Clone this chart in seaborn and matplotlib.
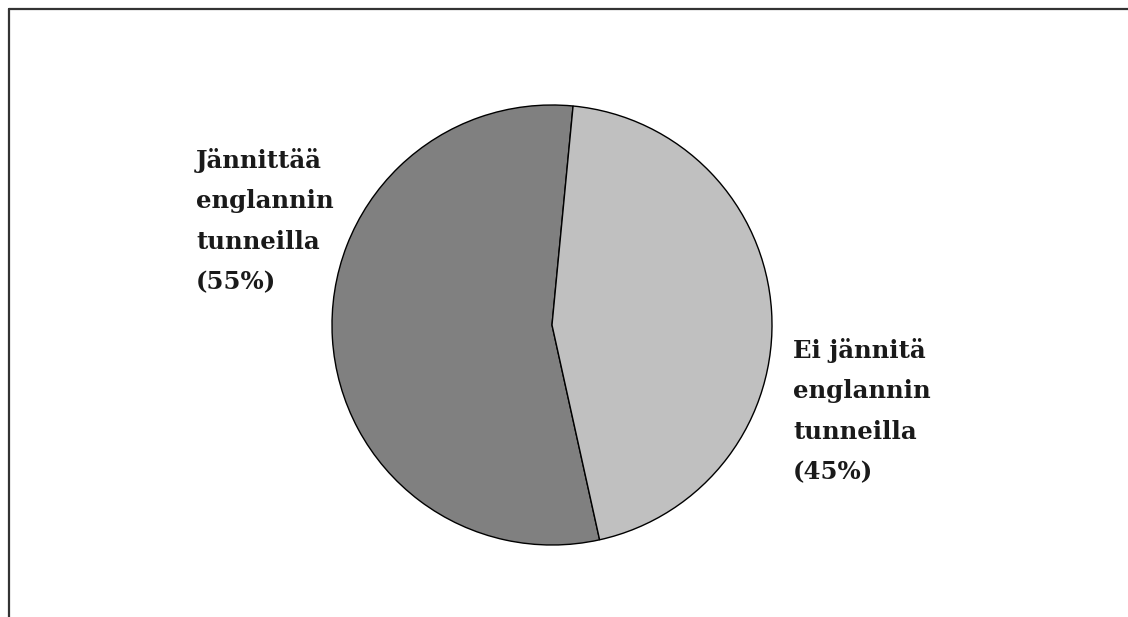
import matplotlib
matplotlib.use("Agg")
import matplotlib.pyplot as plt
import seaborn as sns
from matplotlib.lines import Line2D

sns.set_theme(style="white")
plt.rcParams["font.family"] = ["DejaVu Serif"]

# Survey answers: does the student feel nervous in English lessons?
categories = ["Jännittää\nenglannin\ntunneilla", "Ei jännitä\nenglannin\ntunneilla"]
shares = [55, 45]
colors = ["#808080", "#c0c0c0"]

W, H = 1128, 617
fig = plt.figure(figsize=(W / 100, H / 100), dpi=100)
fig.patch.set_facecolor("white")

# Square axes holding the pie (pixel box converted to figure fractions)
cx, cy, r = 552, 325, 220
ax = fig.add_axes([(cx - r) / W, (H - cy - r) / H, 2 * r / W, 2 * r / H])
ax.pie(shares, colors=colors, startangle=84.5, counterclock=True,
       radius=1.0, wedgeprops=dict(edgecolor="black", linewidth=1.0))
ax.set_xlim(-1, 1)
ax.set_ylim(-1, 1)
ax.set_aspect("equal")
ax.axis("off")

# Category labels with percentages
label_pos = [(196, 148), (793, 338)]
for (x, y), cat, v in zip(label_pos, categories, shares):
    fig.text(x / W, 1 - y / H, f"{cat}\n({v}%)", ha="left", va="top",
             fontsize=17.6, fontweight="bold", color="#1a1a1a",
             linespacing=1.86)

# Frame lines along the top and left edges
fig.add_artist(Line2D([9 / W, 1.0], [1 - 8.5 / H, 1 - 8.5 / H],
                      transform=fig.transFigure, color="#333333", linewidth=1.6))
fig.add_artist(Line2D([9 / W, 9 / W], [0.0, 1 - 8.5 / H],
                      transform=fig.transFigure, color="#333333", linewidth=1.6))

fig.savefig("out.png", dpi=100, facecolor="white")
